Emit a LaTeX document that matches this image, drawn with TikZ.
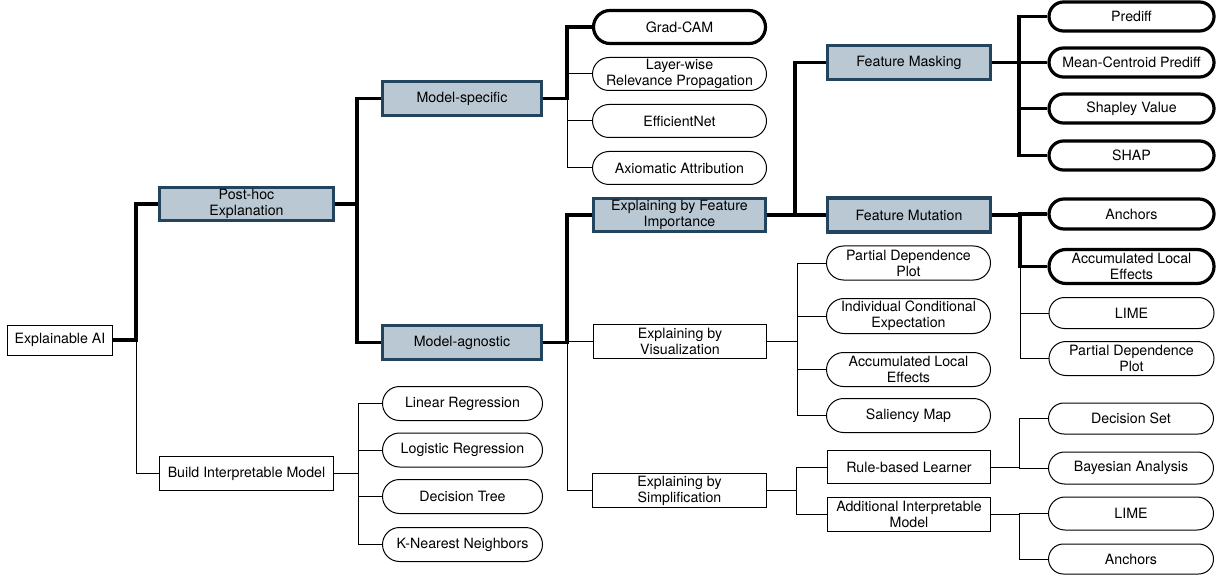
\documentclass[tikz,border=0pt]{standalone}
\usepackage{fontspec}
\setmainfont{TeX Gyre Heros}
\usetikzlibrary{shapes.misc}
\definecolor{boxfill}{HTML}{BAC8D3}
\definecolor{boxdraw}{HTML}{23445D}
\begin{document}
\begin{tikzpicture}[x=1pt,y=-1pt,
  every node/.style={font=\fontsize{14.2}{16}\selectfont, align=center, inner sep=0pt},
  rectbox/.style={draw=black, line width=1pt, fill=white, rectangle},
  bluebox/.style={draw=boxdraw, line width=3.2pt, fill=boxfill, rectangle},
  pill/.style={draw=black, line width=1pt, fill=white, rounded rectangle},
  pillthick/.style={draw=black, line width=3.2pt, fill=white, rounded rectangle},
  thinline/.style={draw=black, line width=1pt},
  thickline/.style={draw=black, line width=3.5pt},
  sz/.style 2 args={minimum width=#1, minimum height=#2}
]
\useasboundingbox (0,0) rectangle (1225,577);

% bus coordinates
\coordinate (b0) at (136,0);
\coordinate (b1) at (357,0);
\coordinate (b2) at (567,0);
\coordinate (b4) at (795,0);
\coordinate (b5) at (797,0);
\coordinate (b6) at (796,0);
\coordinate (b7) at (1019,0);
\coordinate (b8) at (1020,0);
\coordinate (b9) at (358,0);

% nodes
\node[rectbox, sz={105}{30}] (xai) at (60,340) {Explainable AI};
\node[bluebox, sz={174}{33}] (posthoc) at (246.5,204) {Post-hoc\\Explanation};
\node[rectbox, sz={174}{34}] (build) at (246.5,473.5) {Build Interpretable Model};

\node[bluebox, sz={159}{34}] (mspec) at (462,98.5) {Model-specific};
\node[bluebox, sz={159}{34}] (magn) at (462,342.5) {Model-agnostic};

\node[pill, sz={160}{34}] (linreg) at (462.5,403.5) {Linear Regression};
\node[pill, sz={160}{34}] (logreg) at (462.5,450) {Logistic Regression};
\node[pill, sz={160}{34}] (dtree) at (462.5,496.5) {Decision Tree};
\node[pill, sz={160}{34}] (knn) at (462.5,544.5) {K-Nearest Neighbors};

\node[pillthick, sz={172}{33}] (gradcam) at (679.5,27) {Grad-CAM};
\node[pill, sz={174}{33}] (lrp) at (679.5,74) {Layer-wise\\Relevance Propagation};
\node[pill, sz={174}{33}] (effnet) at (679.5,121) {EfficientNet};
\node[pill, sz={174}{33}] (axiom) at (679.5,168) {Axiomatic Attribution};

\node[bluebox, sz={172}{33}] (fimp) at (679.5,215) {Explaining by Feature\\Importance};
\node[rectbox, sz={173}{34}] (vis) at (680,341.5) {Explaining by\\Visualization};
\node[rectbox, sz={174}{34}] (simp) at (679.5,490.5) {Explaining by\\Simplification};

\node[bluebox, sz={163}{34}] (fmask) at (909,62.5) {Feature Masking};
\node[bluebox, sz={163}{34}] (fmut) at (909,215) {Feature Mutation};

\node[pill, sz={164}{34}] (pdpa) at (908.5,263) {Partial Dependence\\Plot};
\node[pill, sz={164}{35}] (ice) at (908.5,316) {Individual Conditional\\Expectation};
\node[pill, sz={164}{34}] (alea) at (908.5,369.5) {Accumulated Local\\Effects};
\node[pill, sz={164}{34}] (sal) at (908.5,415.5) {Saliency Map};

\node[rectbox, sz={163}{33}] (rule) at (909,467) {Rule-based Learner};
\node[rectbox, sz={163}{34}] (addm) at (909,514.5) {Additional Interpretable\\Model};

\node[pillthick, sz={165}{29}] (prediff) at (1131.5,16.5) {Prediff};
\node[pillthick, sz={165}{29}] (mcp) at (1131.5,62.5) {Mean-Centroid Prediff};
\node[pillthick, sz={165}{29}] (shapv) at (1131.5,108.5) {Shapley Value};
\node[pillthick, sz={165}{29}] (shap) at (1131.5,155.5) {SHAP};

\node[pillthick, sz={165}{30}] (ancha) at (1131.5,214) {Anchors};
\node[pillthick, sz={165}{34}] (aleb) at (1131.5,266.5) {Accumulated Local\\Effects};
\node[pill, sz={165}{31}] (limea) at (1131.5,313) {LIME};
\node[pill, sz={165}{34}] (pdpb) at (1131.5,358.5) {Partial Dependence\\Plot};

\node[pill, sz={165}{31}] (dset) at (1131,418.5) {Decision Set};
\node[pill, sz={165}{32}] (bayes) at (1131,468) {Bayesian Analysis};
\node[pill, sz={165}{33}] (limeb) at (1131,513.5) {LIME};
\node[pill, sz={165}{30}] (anchb) at (1131,559) {Anchors};

% thin connectors
\foreach \p/\b/\c in {xai/b0/build, build/b9/linreg, build/b9/logreg, build/b9/dtree, build/b9/knn,
  mspec/b2/lrp, mspec/b2/effnet, mspec/b2/axiom,
  magn/b2/vis, magn/b2/simp,
  vis/b5/pdpa, vis/b5/ice, vis/b5/alea, vis/b5/sal,
  simp/b6/rule, simp/b6/addm,
  rule/b7/dset, rule/b7/bayes, addm/b7/limeb, addm/b7/anchb,
  fmut/b8/limea, fmut/b8/pdpb}
  \draw[thinline] (\p.east) -- (\p.east -| \b) |- (\c.west);

% thick connectors
\foreach \p/\b/\c in {xai/b0/posthoc, posthoc/b1/mspec, posthoc/b1/magn,
  mspec/b2/gradcam, magn/b2/fimp,
  fimp/b4/fmask, fimp/b4/fmut,
  fmask/b7/prediff, fmask/b7/mcp, fmask/b7/shapv, fmask/b7/shap,
  fmut/b8/ancha, fmut/b8/aleb}
  \draw[thickline] (\p.east) -- (\p.east -| \b) |- (\c.west);

\end{tikzpicture}
\end{document}
